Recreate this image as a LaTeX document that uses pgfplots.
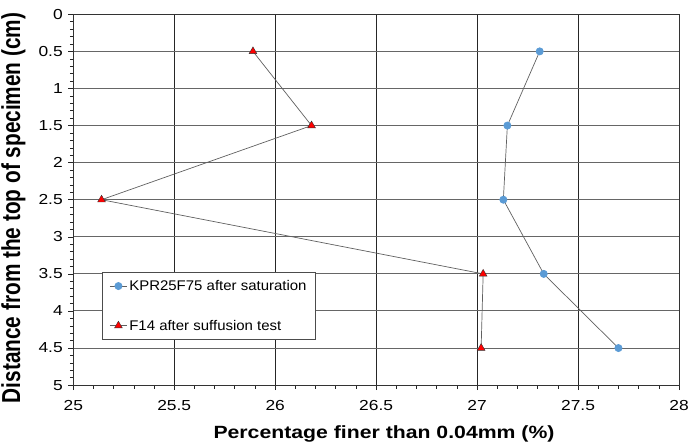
\documentclass[border=0pt]{standalone}
\usepackage{pgfplots}
\pgfplotsset{compat=1.18}
\usepackage{fontspec}
\setmainfont{Liberation Sans}[FakeStretch=1.2]
\newfontfamily\legfont{Liberation Sans}[FakeStretch=1.07]
\newfontfamily\ylabfont{Liberation Sans}[FakeStretch=0.8]
\definecolor{ptblue}{HTML}{5B9BD5}
\definecolor{lngray}{HTML}{606060}
\begin{document}
\begin{tikzpicture}
\begin{axis}[
  scale only axis,
  width=606pt, height=371pt,
  xmin=25, xmax=28, ymin=0, ymax=5,
  y dir=reverse,
  xtick={25,25.5,...,28}, ytick={0,0.5,...,5},
  minor tick num=4,
  tick align=outside,
  xtick pos=bottom, ytick pos=left,
  major tick length=5pt, minor tick length=3.5pt,
  tick style={black!85, line width=0.6pt},
  grid=major,
  x grid style={black!85, line width=0.7pt},
  y grid style={black!60, line width=1pt},
  axis line style={black!80, line width=0.8pt},
  /pgf/number format/assume math mode=true,
  ticklabel style={font=\fontsize{14.5}{16}\selectfont},
  x tick label style={/pgf/number format/fixed, yshift=-7pt},
  y tick label style={/pgf/number format/fixed, xshift=-2pt},
  xlabel={\textbf{Percentage finer than 0.04mm (\%)}},
  ylabel={\ylabfont\bfseries Distance from the top of specimen (cm)},
  xlabel style={font=\fontsize{17.7}{20}\selectfont, at={(axis description cs:0.513,-0.131)}, anchor=center},
  ylabel style={font=\fontsize{26}{28}\selectfont, at={(axis description cs:-0.099,0.478)}, anchor=center},
  legend style={at={(0.048,0.305)}, anchor=north west,
    draw=black!70, fill=white, font=\legfont\fontsize{14}{16}\selectfont,
    row sep=24pt, inner xsep=7pt, inner ysep=6pt,
    /tikz/every even column/.append style={column sep=2pt}},
  legend image code/.code={
    \draw[mark repeat=2,mark phase=2] plot coordinates {(0cm,0cm) (0.3cm,0cm) (0.6cm,0cm)};},
  legend cell align=left,
]
\addplot[lngray, line width=0.7pt, mark=*, mark size=3.6pt,
  mark options={fill=ptblue, draw=ptblue}]
  coordinates {(27.31,0.5) (27.15,1.5) (27.13,2.5) (27.33,3.5) (27.70,4.5)};
\addlegendentry{KPR25F75 after saturation}
\addplot[lngray, line width=0.7pt, mark=triangle*, mark size=4.5pt,
  mark options={fill=red, draw=black!80, line width=0.4pt}]
  coordinates {(25.89,0.5) (26.18,1.5) (25.14,2.5) (27.03,3.5) (27.02,4.5)};
\addlegendentry{F14 after suffusion test}
\end{axis}
\pgfresetboundingbox
\path[use as bounding box] (-73.3pt,-62pt) rectangle (616pt,385.3pt);
\end{tikzpicture}
\end{document}
